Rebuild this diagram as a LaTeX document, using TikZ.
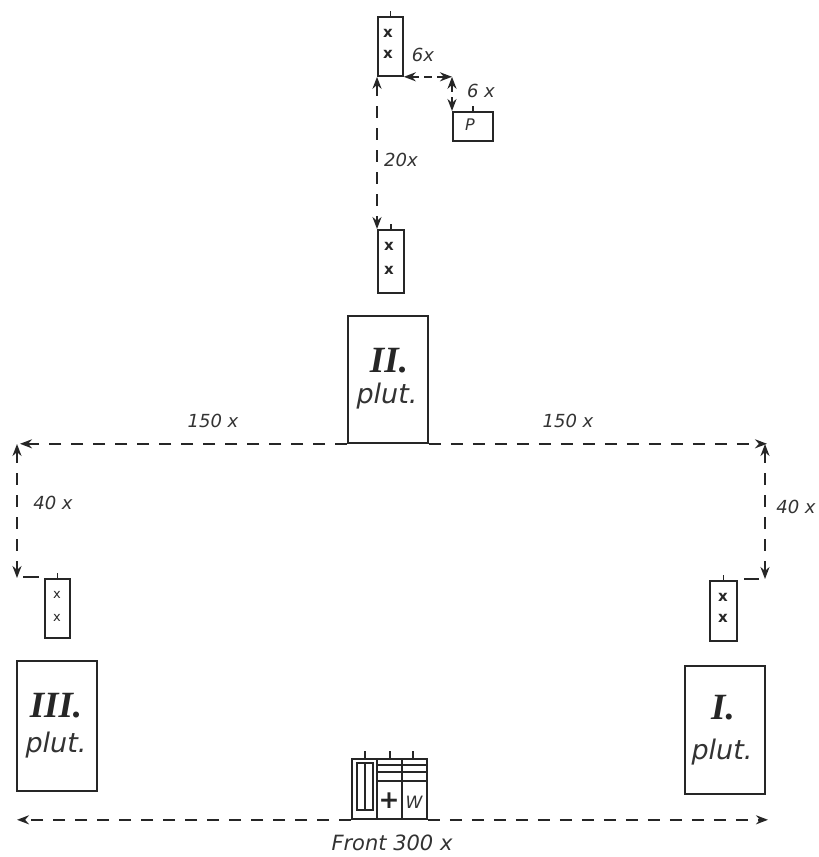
\documentclass[tikz,border=0pt]{standalone}
\usepackage{fontspec}
\setmainfont{DejaVu Sans}
\newfontfamily\numfont{Liberation Serif}
\usetikzlibrary{arrows.meta}
\tikzset{
  x=1pt,y=-1pt,
  ink/.style={draw=black!85,line width=1.8pt},
  box/.style={ink,fill=white,inner sep=0pt,anchor=north west},
  dim/.style={draw=black!85,line width=2pt,dash pattern=on 12pt off 10pt},
  tipb/.style={dim,{Stealth[length=12pt,width=9pt]}-{Stealth[length=12pt,width=9pt]}},
  tipe/.style={dim,-{Stealth[length=12pt,width=9pt]}},
  lab/.style={inner sep=0pt,font=\fontsize{18}{20}\selectfont\itshape,text=black!80},
  xmark/.style={inner sep=0pt,font=\fontsize{15}{17}\selectfont\bfseries,text=black!85},
  plutlab/.style={inner sep=0pt,font=\fontsize{27}{29}\selectfont\itshape,text=black!80},
  roman/.style={inner sep=0pt,font=\numfont\fontsize{37}{39}\selectfont\bfseries\itshape,text=black!85},
  tick/.style={ink}
}
\newcommand{\plbox}[5]{\node[box,minimum width=#4pt,minimum height=#5pt] (#1) at (#2,#3) {};}
\begin{document}
\begin{tikzpicture}
\useasboundingbox (0,0) rectangle (819,857);
\fill[white] (0,0) rectangle (819,857);
% boxes
\plbox{topx}{377}{16}{25}{59}
\plbox{pbox}{452}{111}{40}{29}
\plbox{midx}{377}{229}{26}{63}
\plbox{two}{347}{315}{80}{127}
\plbox{leftx}{44}{578}{25}{59}
\plbox{three}{16}{660}{80}{130}
\plbox{rightx}{709}{580}{27}{60}
\plbox{one}{684}{665}{80}{128}
\plbox{front}{351}{758}{75}{60}
% corners
\coordinate (c6) at (topx.south east -| pbox.north west);
\coordinate (cl) at (two.south west -| 20,0);
\coordinate (cr) at (two.south east -| 767,0);
\coordinate (fl) at (front.south west -| 17,0);
\coordinate (fr) at (front.south east -| 768,0);
\coordinate (lt) at (17,578);
\coordinate (ltop) at (17,444);
\coordinate (rtop) at (765,444);
\coordinate (rt) at (765,579);
\coordinate (lta) at (23,577);
\coordinate (ltb) at (39,577);
\coordinate (rta) at (744,579);
\coordinate (rtb) at (759,579);
% ticks
\foreach \n in {topx,midx,leftx,rightx,pbox}{\draw[tick] (\n.north) -- ++(0,-5);}
% dimension lines
\draw[tipb] (topx.south west) -- (midx.north west);
\draw[tipb,dash pattern=on 8pt off 5pt] (topx.south east) -- (c6);
\draw[tipb,dash pattern=on 8pt off 5pt] (c6) -- (pbox.north west);
\draw[tipe] (two.south west) -- (cl);
\draw[tipe] (two.south east) -- (cr);
\draw[tipb] (ltop) -- (lt);
\draw[tipb] (rtop) -- (rt);
\draw[ink] (lta) -- (ltb);
\draw[ink] (rta) -- (rtb);
\draw[tipe] (front.south west) -- (fl);
\draw[tipe] (front.south east) -- (fr);
% front interior
\draw[ink] (377,758) -- (377,818) (402,758) -- (402,818);
\draw[ink,line width=1.5pt] (357,763) rectangle (373,810) (365,763) -- (365,810);
\draw[ink] (377,765) -- (426,765) (377,772) -- (426,772) (377,781) -- (426,781);
\draw[tick] (365,758) -- (365,751) (390,758) -- (390,751) (413,758) -- (413,751);
\node[inner sep=0pt,font=\fontsize{25}{27}\selectfont\bfseries,text=black!85] (plus) at (389,801) {+};
\node[inner sep=0pt,font=\fontsize{17}{19}\selectfont\itshape,text=black!80] (wlab) at (414,802) {W};
% box texts
\node[xmark] (x1) at (388,33) {x};
\node[xmark] (x2) at (388,54) {x};
\node[xmark] (x3) at (389,246) {x};
\node[xmark] (x4) at (389,270) {x};
\node[xmark,font=\fontsize{13}{15}\selectfont] (x5) at (57,595) {x};
\node[xmark,font=\fontsize{13}{15}\selectfont] (x6) at (57,618) {x};
\node[xmark] (x7) at (723,597) {x};
\node[xmark] (x8) at (723,618) {x};
\node[lab,font=\fontsize{16}{18}\selectfont\itshape] (p) at (470,125) {P};
\node[roman] (r2) at (389,361) {II.};
\node[plutlab] (p2) at (387,396) {plut.};
\node[roman] (r3) at (56,706) {III.};
\node[plutlab] (p3) at (56,745) {plut.};
\node[roman] (r1) at (723,708) {I.};
\node[plutlab] (p1) at (722,752) {plut.};
% dimension labels
\node[lab] (l1) at (423,55) {6x};
\node[lab] (l2) at (481,91) {6 x};
\node[lab] (l3) at (401,160) {20x};
\node[lab] (l4) at (213,421) {150 x};
\node[lab] (l5) at (568,421) {150 x};
\node[lab] (l6) at (53,503) {40 x};
\node[lab] (l7) at (796,507) {40 x};
\node[inner sep=0pt,font=\fontsize{21}{23}\selectfont\itshape,text=black!80] (l8) at (392,843) {Front 300 x};
\end{tikzpicture}
\end{document}
